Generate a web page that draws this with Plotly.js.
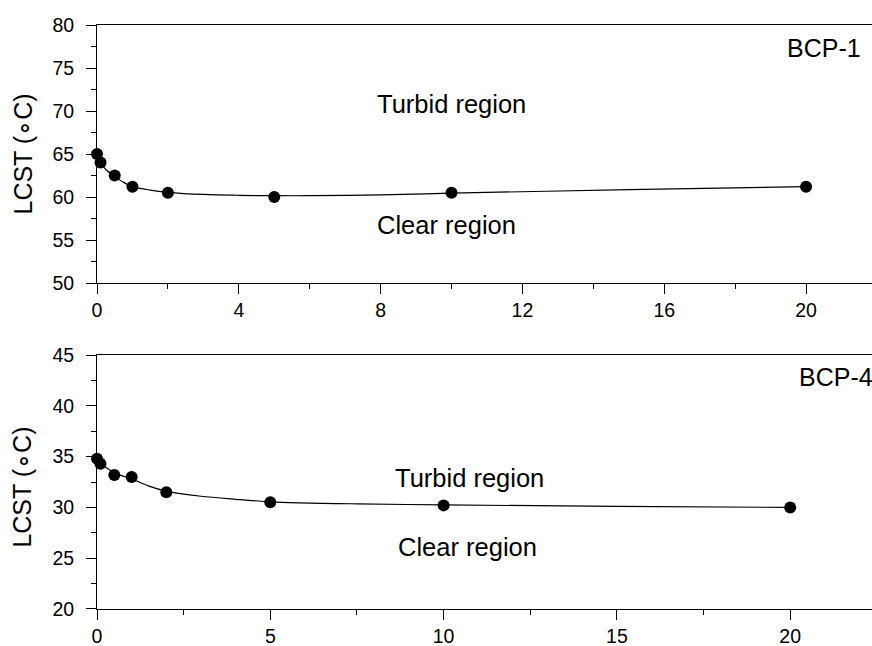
<!DOCTYPE html>
<html>
<head>
<meta charset="utf-8">
<script src="https://cdn.plot.ly/plotly-3.0.1.min.js"></script>
<style>html,body{margin:0;padding:0;background:#fff;}#chart{width:872px;height:646px;}</style>
</head>
<body>
<div id="chart"></div>
<script>
// BCP-1 (top panel)
const bcp1X = [0, 0.1, 0.5, 1, 2, 5, 10, 20];
const bcp1Y = [65, 64, 62.5, 61.2, 60.5, 60, 60.5, 61.2];
// fitted curve
const bcp1FitX = [0, 0.1, 0.25, 0.5, 0.75, 1, 1.5, 2, 3, 4, 5, 6, 8, 10, 15, 20];
const bcp1FitY = [64.4, 64.0, 63.2, 62.4, 61.7, 61.2, 60.8, 60.55, 60.3, 60.2, 60.15, 60.15, 60.25, 60.45, 60.85, 61.2];

// BCP-4 (bottom panel)
const bcp4X = [0, 0.1, 0.5, 1, 2, 5, 10, 20];
const bcp4Y = [34.8, 34.3, 33.2, 33.0, 31.5, 30.5, 30.2, 30.0];
const bcp4FitX = [0, 0.1, 0.5, 1, 1.5, 2, 3, 4, 5, 7.5, 10, 15, 20];
const bcp4FitY = [34.5, 34.3, 33.4, 32.8, 32.1, 31.6, 31.1, 30.8, 30.55, 30.35, 30.25, 30.1, 30.0];

const yTitle = 'LCST (\u2218C)';
const labels = {turbid: 'Turbid region', clear: 'Clear region', top: 'BCP-1', bottom: 'BCP-4'};

const FONT = 'Liberation Sans, Arial, sans-serif';
const lineStyle = {color: '#000', width: 1.2, shape: 'spline', smoothing: 0.8};
const markerStyle = {color: '#000', size: 12};

const traces = [
  {x: bcp1FitX, y: bcp1FitY, mode: 'lines', line: lineStyle, xaxis: 'x', yaxis: 'y', hoverinfo: 'skip'},
  {x: bcp1X, y: bcp1Y, mode: 'markers', marker: markerStyle, xaxis: 'x', yaxis: 'y', cliponaxis: false},
  {x: bcp4FitX, y: bcp4FitY, mode: 'lines', line: lineStyle, xaxis: 'x2', yaxis: 'y2', hoverinfo: 'skip'},
  {x: bcp4X, y: bcp4Y, mode: 'markers', marker: markerStyle, xaxis: 'x2', yaxis: 'y2', cliponaxis: false}
];

const axisCommon = {
  showgrid: false, zeroline: false, showline: true, linecolor: '#000', linewidth: 1,
  ticks: 'outside', ticklen: 10, tickwidth: 1, tickcolor: '#000',
  tickfont: {family: FONT, size: 19.5, color: '#000'}
};
const minorX = (d) => ({dtick: d, ticklen: 5, ticks: 'outside', tickcolor: '#000', showgrid: false});

const layout = {
  width: 872, height: 646,
  margin: {l: 97, r: 0, t: 25, b: 37},
  paper_bgcolor: '#fff', plot_bgcolor: '#fff',
  showlegend: false,
  font: {family: FONT, color: '#000'},
  xaxis: Object.assign({}, axisCommon, {
    domain: [0, 1], anchor: 'y', range: [0, 21.86], dtick: 4, tick0: 0, mirror: true,
    minor: minorX(2)
  }),
  yaxis: Object.assign({}, axisCommon, {
    domain: [0.5582, 1], anchor: 'x', range: [50, 80], dtick: 5, tick0: 50,
    ticklabelstandoff: 8, minor: minorX(2.5)
  }),
  xaxis2: Object.assign({}, axisCommon, {
    domain: [0, 1], anchor: 'y2', range: [0, 22.36], dtick: 5, tick0: 0, mirror: true,
    minor: minorX(2.5)
  }),
  yaxis2: Object.assign({}, axisCommon, {
    domain: [0, 0.4349], anchor: 'x2', range: [20, 45], dtick: 5, tick0: 20,
    ticklabelstandoff: 8, minor: minorX(2.5)
  }),
  annotations: [
    {xref: 'paper', yref: 'y domain', x: -0.0961, y: 0.5, text: yTitle, textangle: -90, showarrow: false, xanchor: 'center', yanchor: 'middle', font: {size: 25}},
    {xref: 'paper', yref: 'y2 domain', x: -0.0961, y: 0.48, text: yTitle, textangle: -90, showarrow: false, xanchor: 'center', yanchor: 'middle', font: {size: 25}},
    {xref: 'x', yref: 'y', x: 10, y: 70.8, text: labels.turbid, showarrow: false, font: {size: 25.5}},
    {xref: 'x', yref: 'y', x: 9.87, y: 56.7, text: labels.clear, showarrow: false, font: {size: 25.5}},
    {xref: 'x', yref: 'y', x: 21.6, y: 77.3, text: labels.top, showarrow: false, xanchor: 'right', font: {size: 25}},
    {xref: 'x2', yref: 'y2', x: 10.76, y: 32.9, text: labels.turbid, showarrow: false, font: {size: 25.5}},
    {xref: 'x2', yref: 'y2', x: 10.7, y: 26.15, text: labels.clear, showarrow: false, font: {size: 25.5}},
    {xref: 'x2', yref: 'y2', x: 20.2, y: 42.85, text: labels.bottom, showarrow: false, xanchor: 'left', font: {size: 25}}
  ]
};

Plotly.newPlot('chart', traces, layout, {displayModeBar: false, staticPlot: true});
</script>
</body>
</html>
